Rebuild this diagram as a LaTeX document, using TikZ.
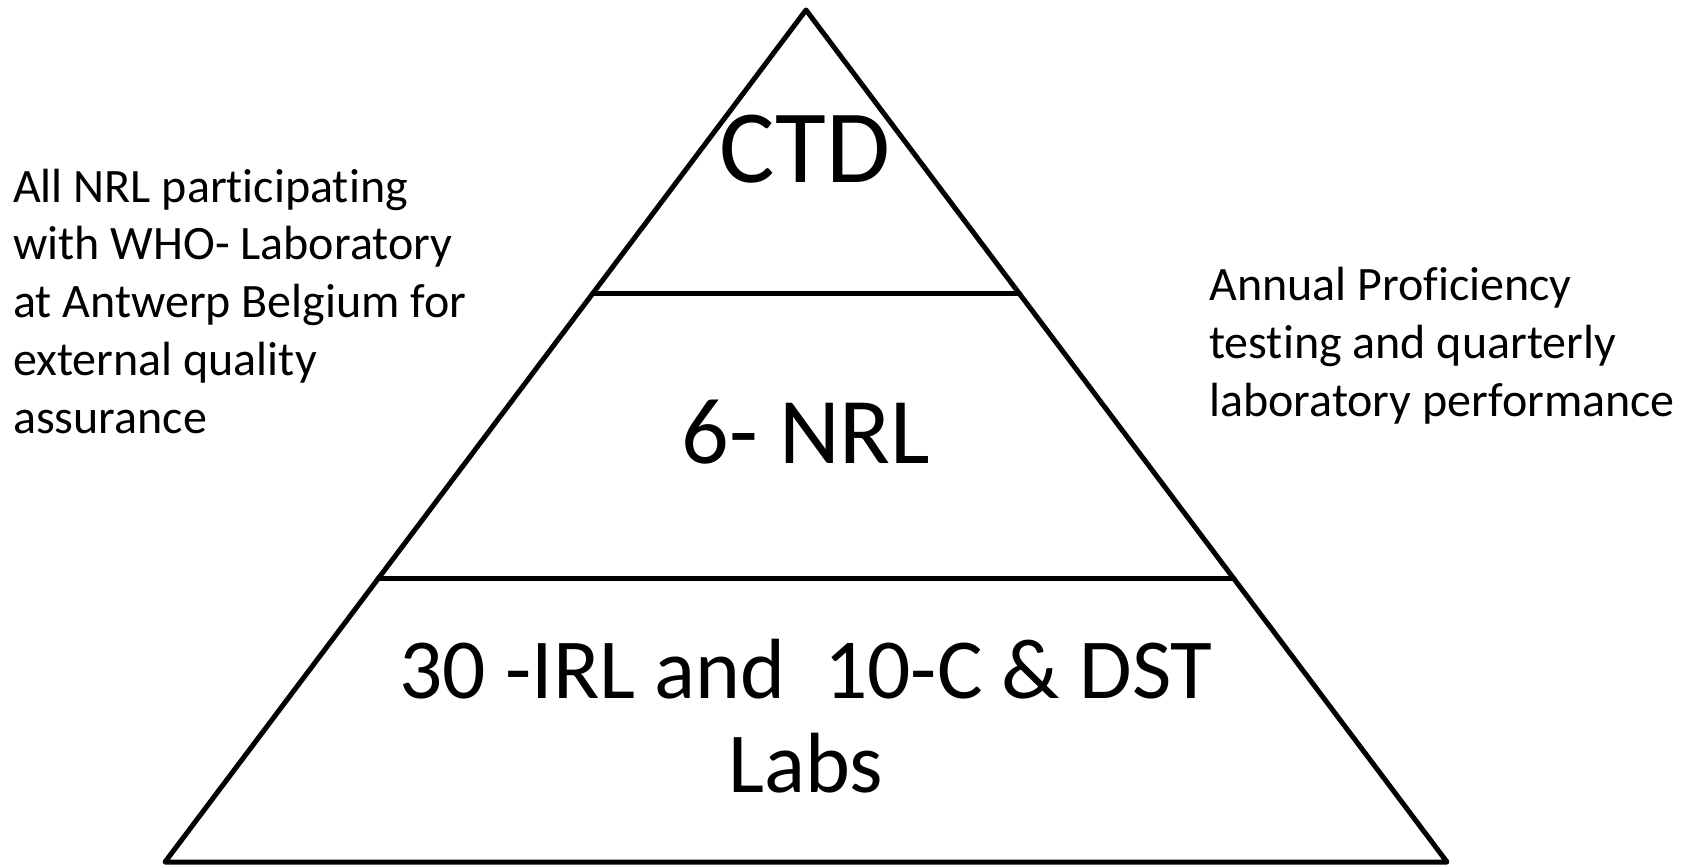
\documentclass[tikz,border=0pt]{standalone}
\usepackage{fontspec}
\setmainfont{Carlito}[Ligatures=CommonOff]
\usetikzlibrary{calc}
\begin{document}
\begin{tikzpicture}[x=1pt,y=-1pt,
  edge/.style={line width=5pt,line join=round,line cap=round},
  sidetext/.style={anchor=base west,inner sep=0pt,align=left,font=\fontsize{48}{57.7}\selectfont},
  leveltext/.style={anchor=base,inner sep=0pt,align=center}]
\useasboundingbox (0,0) rectangle (1692,865);
\coordinate (apex) at (806,10);
\coordinate (bl) at (165,862);
\coordinate (br) at (1447,862);
\coordinate (l1) at ($(apex)!0.3333!(bl)$);
\coordinate (r1) at ($(apex)!0.3333!(br)$);
\coordinate (l2) at ($(apex)!0.6678!(bl)$);
\coordinate (r2) at ($(apex)!0.6678!(br)$);
\draw[edge] (apex) -- (bl) -- (br) -- cycle;
\draw[edge] (l1) -- (r1);
\draw[edge] (l2) -- (r2);
\node[leveltext,font=\fontsize{104}{110}\selectfont] (ctd) at (805,182) {CTD};
\node[leveltext,font=\fontsize{94}{100}\selectfont] (nrl) at (806,463) {6- NRL};
\node[leveltext,font=\fontsize{85.5}{94}\selectfont] (irl) at (806,792) {30 -IRL and~~10-C \& DST\\Labs};
\node[sidetext] (left) at (13,433) {All NRL participating\\with WHO- Laboratory\\at Antwerp Belgium for\\external quality\\assurance};
\node[sidetext] (right) at (1209,416) {Annual Proficiency\\testing and quarterly\\laboratory performance};
\end{tikzpicture}
\end{document}
